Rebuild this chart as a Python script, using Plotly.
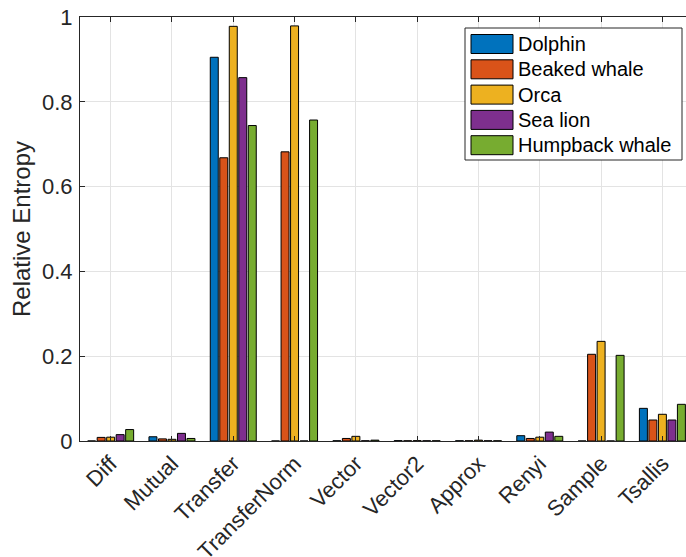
import plotly.graph_objects as go

# Entropy measures (x categories)
methods = ["Diff", "Mutual", "Transfer", "TransferNorm", "Vector",
           "Vector2", "Approx", "Renyi", "Sample", "Tsallis"]

# Relative entropy per species
series_names = ["Dolphin", "Beaked whale", "Orca", "Sea lion", "Humpback whale"]
dolphin  = [0.0,    0.010, 0.905, 0.0,   0.0005, 0.0008, 0.0005, 0.0125, 0.0,    0.077]
beaked   = [0.0085, 0.005, 0.668, 0.682, 0.006,  0.0005, 0.0005, 0.006,  0.2045, 0.0495]
orca     = [0.009,  0.004, 0.978, 0.979, 0.011,  0.0008, 0.002,  0.009,  0.235,  0.063]
sea_lion = [0.015,  0.018, 0.857, 0.0,   0.0005, 0.0005, 0.0005, 0.021,  0.0,    0.0495]
humpback = [0.027,  0.006, 0.744, 0.757, 0.002,  0.0005, 0.0005, 0.011,  0.202,  0.0865]

y_ticks = [0, 0.2, 0.4, 0.6, 0.8, 1]
y_tick_labels = ["0", "0.2", "0.4", "0.6", "0.8", "1"]

colors = ["#0072BD", "#D95319", "#EDB120", "#7E2F8E", "#77AC30"]
all_series = [dolphin, beaked, orca, sea_lion, humpback]

TEXT = "#262626"
FONT = "Liberation Sans, Arial, Helvetica, sans-serif"

W, H = 686, 557
ML, MR, MT, MB = 80, 0, 17, 116
PW, PH = W - ML - MR, H - MT - MB

fig = go.Figure()
for name, vals, col in zip(series_names, all_series, colors):
    fig.add_trace(go.Bar(
        x=methods, y=vals, name=name,
        marker=dict(color=col, line=dict(color="#000000", width=1)),
        showlegend=False,
    ))

# Boxed legend with wide colour swatches, placed in plot-area pixels
def px_x(p):
    return (p - ML) / PW

def px_y(p):
    return (H - MB - p) / PH

shapes = []
annotations = []
box_l, box_r, box_t, box_b = 465, 682, 28, 160
shapes.append(dict(type="rect", xref="paper", yref="paper",
                   x0=px_x(box_l), x1=px_x(box_r), y0=px_y(box_b), y1=px_y(box_t),
                   line=dict(color=TEXT, width=1), fillcolor="white", layer="above"))
row0, row_step = 44, 25.3
for i, (name, col) in enumerate(zip(series_names, colors)):
    cy = row0 + i * row_step
    shapes.append(dict(type="rect", xref="paper", yref="paper",
                       x0=px_x(471), x1=px_x(513), y0=px_y(cy + 9.5), y1=px_y(cy - 9.5),
                       line=dict(color="#000000", width=1), fillcolor=col, layer="above"))
    annotations.append(dict(xref="paper", yref="paper", x=px_x(516), y=px_y(cy),
                            text=name, showarrow=False, xanchor="left", yanchor="middle",
                            font=dict(family=FONT, size=20, color="#000000")))

fig.update_layout(
    width=W, height=H,
    margin=dict(l=ML, r=MR, t=MT, b=MB, pad=0, autoexpand=False),
    paper_bgcolor="white", plot_bgcolor="white",
    barmode="group", bargap=0.225, bargroupgap=0.16,
    font=dict(family=FONT, color=TEXT),
    shapes=shapes, annotations=annotations,
)
fig.update_xaxes(
    range=[-0.5, 9.385], tickangle=-45, automargin=False,
    tickfont=dict(size=22, color=TEXT),
    showline=True, linecolor=TEXT, linewidth=1, mirror="ticks",
    ticks="inside", ticklen=5, tickcolor=TEXT,
    showgrid=True, gridcolor="#e3e3e3", gridwidth=1,
)
fig.update_yaxes(
    range=[0, 1], tickvals=y_ticks, ticktext=y_tick_labels, automargin=False,
    tickfont=dict(size=22, color=TEXT), ticklabelstandoff=2,
    title=dict(text="Relative Entropy", font=dict(size=24, color=TEXT), standoff=4),
    showline=True, linecolor=TEXT, linewidth=1,
    ticks="inside", ticklen=5, tickcolor=TEXT,
    showgrid=True, gridcolor="#e3e3e3", gridwidth=1, zeroline=False,
)

fig.write_html("out.html")
